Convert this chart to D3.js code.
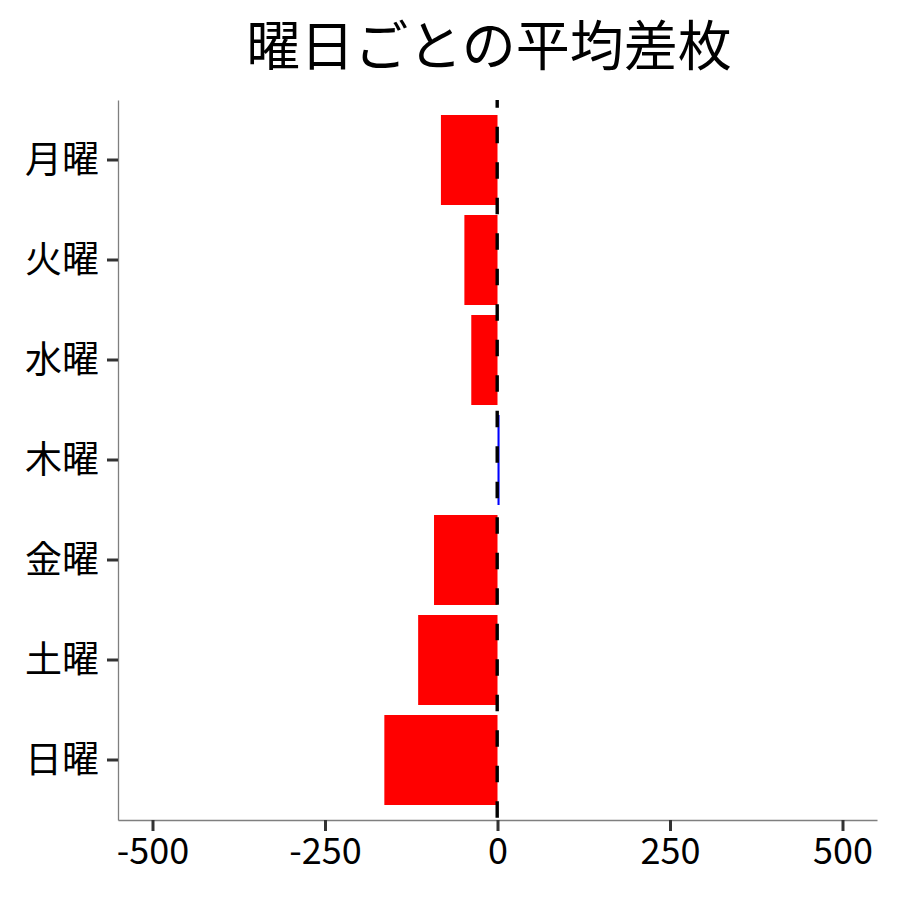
<!DOCTYPE html>
<html><head><meta charset="utf-8">
<script src="https://cdn.jsdelivr.net/npm/d3@7"></script>
<style>body{margin:0;background:#fff}svg{display:block}text{font-family:"Noto Sans CJK JP","Noto Sans",sans-serif}</style>
</head><body>
<script>
const days = ["月曜","火曜","水曜","木曜","金曜","土曜","日曜"];
const values = [-82,-48,-38,3,-92,-115,-164];
const xTicks = [-500,-250,0,250,500];
const title = "曜日ごとの平均差枚";

const W=900,H=900;
const L=118,R=877,T=100,B=820;
const svg=d3.select("body").append("svg").attr("width",W).attr("height",H);
const x=d3.scaleLinear().domain([-550,550]).range([L,R]);
const y=d3.scaleBand().domain(days).range([T,B]).paddingInner(0.1).paddingOuter(0.15);

svg.append("g").selectAll("rect").data(days).join("rect")
  .attr("x",(d,i)=>x(Math.min(0,values[i])))
  .attr("width",(d,i)=>Math.abs(x(values[i])-x(0)))
  .attr("y",d=>y(d)).attr("height",y.bandwidth())
  .attr("fill",(d,i)=>values[i]>=0?"#0000FF":"#FF0000");

svg.append("line").attr("x1",x(0)-0.3).attr("x2",x(0)-0.3).attr("y1",T).attr("y2",B)
  .attr("stroke","#000").attr("stroke-width",3.4).attr("stroke-dasharray","16.5,19").attr("stroke-dashoffset",8.8);

// axes
const xa=svg.append("g").attr("transform",`translate(0,${B})`)
  .call(d3.axisBottom(x).tickValues(xTicks).tickSize(11).tickPadding(6).tickSizeOuter(0).tickFormat(d=>String(d)));
xa.select(".domain").attr("stroke","#7f7f7f").attr("stroke-width",1.3);
xa.selectAll(".tick line").attr("stroke","#333").attr("stroke-width",3);
xa.selectAll(".tick text").attr("font-size",36).attr("fill","#000").attr("font-family",'"Noto Sans CJK JP"').attr("dy","0.75em");

const ya=svg.append("g").attr("transform",`translate(${L},0)`)
  .call(d3.axisLeft(y).tickSize(11).tickPadding(8).tickSizeOuter(0));
ya.select(".domain").attr("stroke","#7f7f7f").attr("stroke-width",1.3);
ya.selectAll(".tick line").attr("stroke","#333").attr("stroke-width",3);
ya.selectAll(".tick text").attr("font-size",37).attr("fill","#000").attr("font-family",'"Noto Sans CJK JP"').attr("dy","0.35em");

svg.append("text").attr("x",489).attr("y",66).attr("text-anchor","middle")
  .attr("font-size",54).attr("fill","#000").text(title);
</script>
</body></html>
